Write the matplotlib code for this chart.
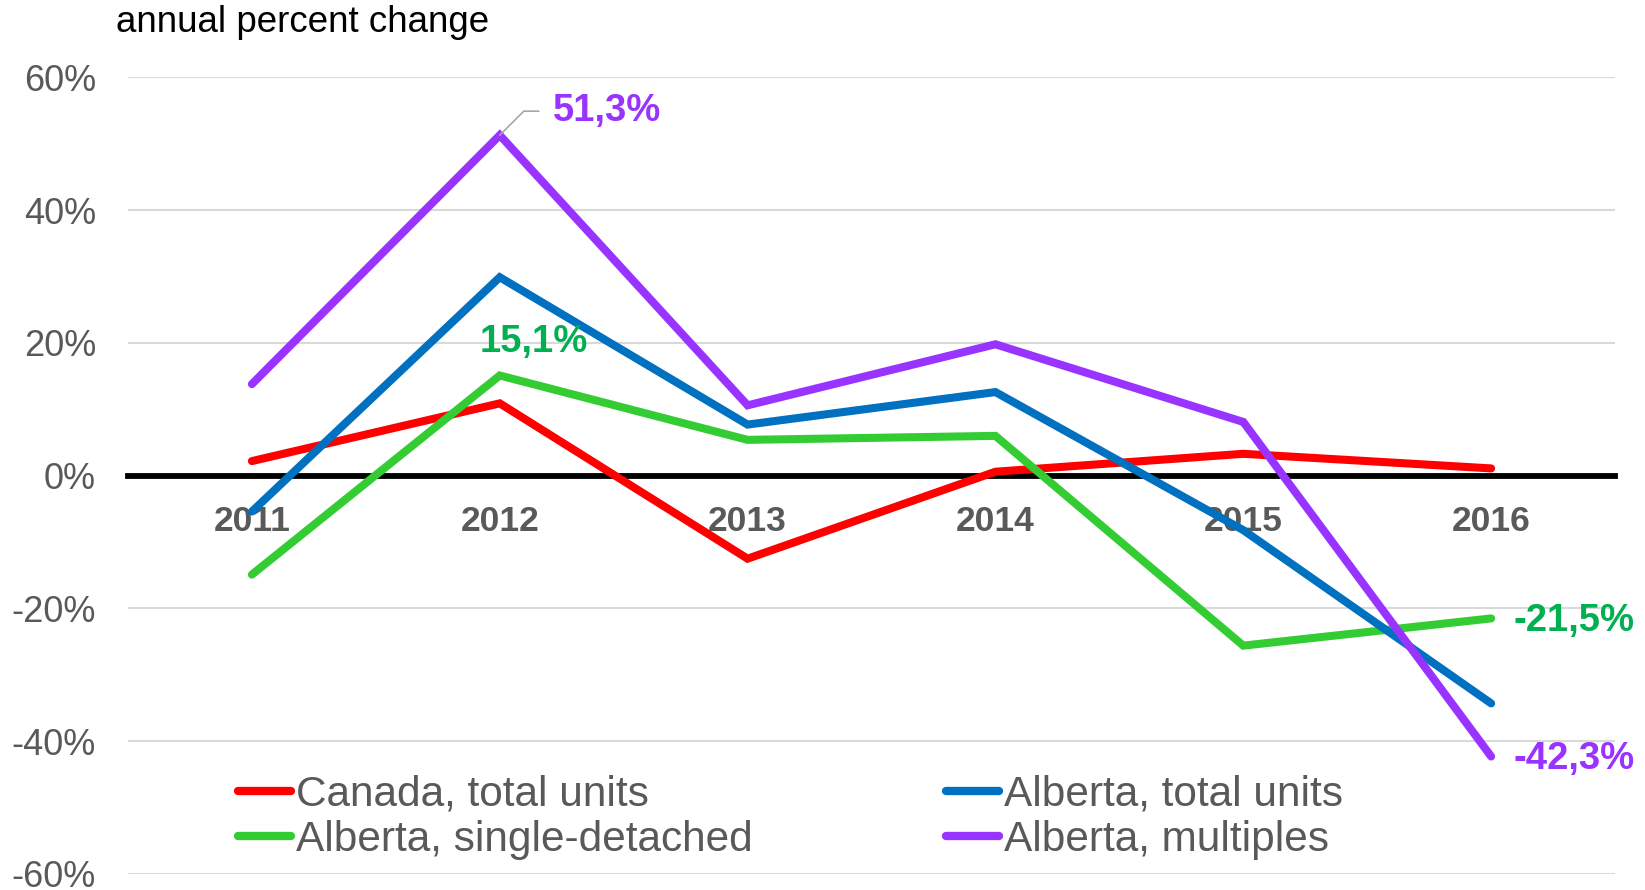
import matplotlib.pyplot as plt

plt.rcParams['font.family'] = ['Liberation Sans', 'DejaVu Sans']

# values (annual % change)
years = ["2011", "2012", "2013", "2014", "2015", "2016"]
canada_total = [2.2, 10.9, -12.5, 0.6, 3.3, 1.1]
alberta_total = [-5.4, 29.9, 7.7, 12.6, -8.2, -34.3]
alberta_single = [-14.9, 15.1, 5.4, 6.0, -25.6, -21.5]
alberta_multi = [13.8, 51.3, 10.6, 19.8, 8.1, -42.3]

grey = "#595959"
red = "#FF0000"
blue = "#0070C0"
green = "#33CC33"
purple = "#9933FF"

fig = plt.figure(figsize=(16.45, 8.9), dpi=100)
ax = fig.add_axes([0.0778, 0.018, 0.904, 0.895])

x = list(range(len(years)))
lw = 5.8
ax.plot(x, canada_total, color=red, lw=lw, solid_capstyle="round", solid_joinstyle="miter", label="Canada, total units", zorder=3)
ax.plot(x, alberta_single, color=green, lw=lw, solid_capstyle="round", solid_joinstyle="miter", label="Alberta, single-detached", zorder=3)
ax.plot(x, alberta_total, color=blue, lw=lw, solid_capstyle="round", solid_joinstyle="miter", label="Alberta, total units", zorder=3)
ax.plot(x, alberta_multi, color=purple, lw=lw, solid_capstyle="round", solid_joinstyle="miter", label="Alberta, multiples", zorder=3)

ax.set_xlim(-0.5, 5.5)
ax.set_ylim(-60, 60)
ax.set_yticks(range(-60, 61, 20))
ax.set_yticklabels(["%d%%" % v for v in range(-60, 61, 20)])
ax.grid(axis="y", color="#D9D9D9", lw=1.5)
ax.set_axisbelow(True)

for s in ["top", "right", "left"]:
    ax.spines[s].set_visible(False)
ax.spines["bottom"].set_position(("data", 0))
ax.spines["bottom"].set_color("black")
ax.spines["bottom"].set_linewidth(4.2)
ax.spines["bottom"].set_zorder(2)

ax.set_xticks(x)
ax.set_xticklabels(years, fontsize=25.5, fontweight="bold", color=grey)
ax.tick_params(axis="x", length=0, pad=21)
ax.tick_params(axis="y", length=0, pad=23, labelsize=26, labelcolor=grey)

# data labels
lab = dict(fontsize=27.5, fontweight="bold")
ax.annotate("51,3%", xy=(1, alberta_multi[1]), xytext=(53, 24), textcoords="offset pixels",
            ha="left", va="center", color=purple, **lab,
            arrowprops=dict(arrowstyle="-", color="#A6A6A6", lw=1.2, shrinkA=8, shrinkB=0,
                            relpos=(0, 0.5), connectionstyle="angle,angleA=0,angleB=45,rad=0"))
ax.annotate("15,1%", xy=(1, alberta_single[1]), xytext=(34, 33), textcoords="offset pixels",
            ha="center", va="center", color="#00B050", **lab)
ax.annotate("-21,5%", xy=(5, alberta_single[5]), xytext=(22, -3), textcoords="offset pixels",
            ha="left", va="center", color="#00B050", **lab)
ax.annotate("-42,3%", xy=(5, alberta_multi[5]), xytext=(22, -3), textcoords="offset pixels",
            ha="left", va="center", color=purple, **lab)

leg = ax.legend(loc="upper left", bbox_to_anchor=(0.074, 0.125), ncol=2, frameon=False,
                fontsize=30.5, handlelength=1.25, handletextpad=0.12, columnspacing=4.55,
                labelspacing=0.13, borderpad=0, borderaxespad=0)
for t in leg.get_texts():
    t.set_color(grey)
for h in leg.get_lines():
    h.set_linewidth(6)

fig.text(0.0705, 0.975, "annual percent change", fontsize=26.5, color="black", va="center", ha="left")

fig.savefig("out.png", dpi=100)
